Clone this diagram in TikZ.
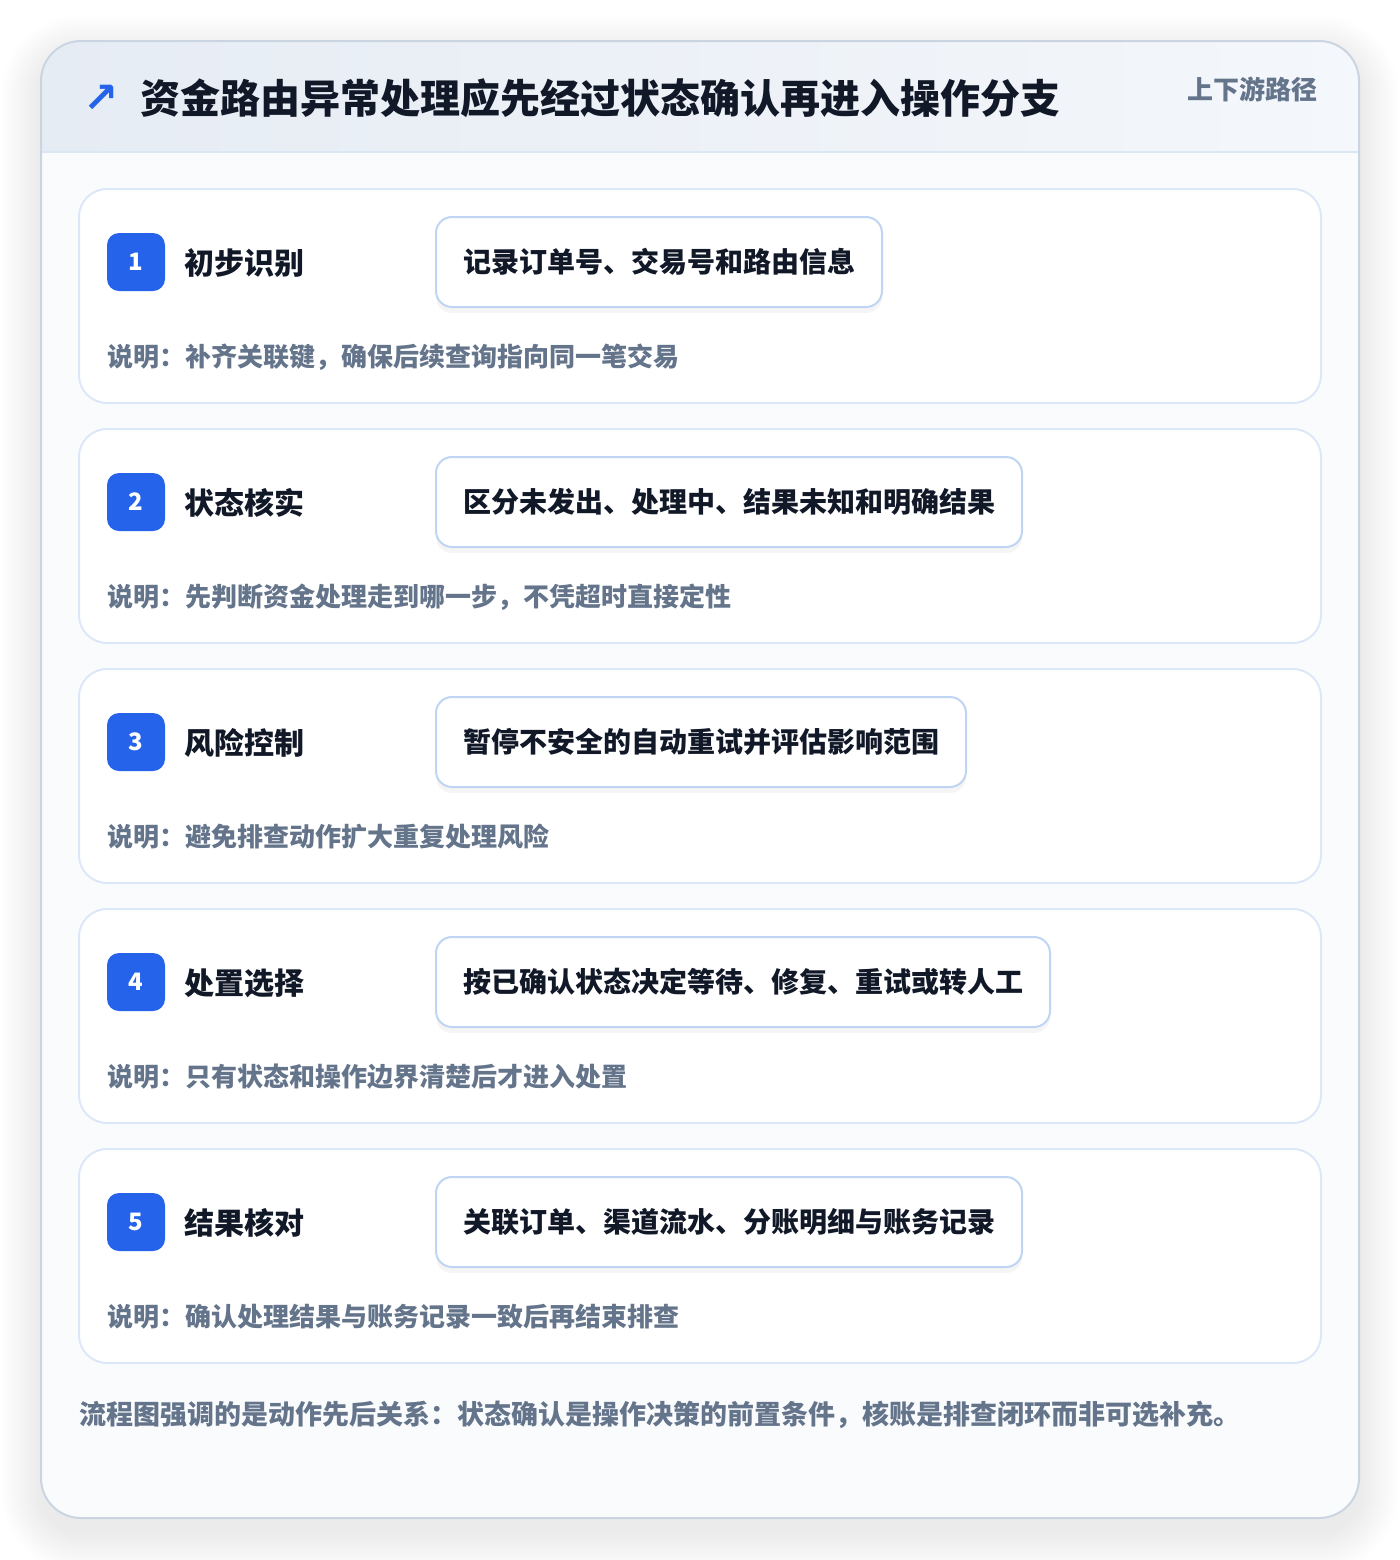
\documentclass[tikz,border=0pt]{standalone}
\usepackage{fontspec}
\setmainfont{Noto Sans CJK SC}
\newfontfamily\symfont{DejaVu Sans}
\usetikzlibrary{positioning,shadows}

\definecolor{cardline}{HTML}{CBD5E1}
\definecolor{headL}{HTML}{E6ECF4}
\definecolor{headR}{HTML}{F4F7FB}
\definecolor{headline}{HTML}{DCE7F6}
\definecolor{bodyfill}{HTML}{FAFBFD}
\definecolor{panelline}{HTML}{DCE8F8}
\definecolor{boxline}{HTML}{BFD5F3}
\definecolor{stepblue}{HTML}{2563EB}
\definecolor{ink}{HTML}{111827}
\definecolor{muted}{HTML}{64748B}

\tikzset{
  panel/.style={draw=panelline, line width=1pt, fill=white, rounded corners=14pt,
    minimum width=621pt, minimum height=107pt, inner sep=0pt},
  badge/.style={fill=stepblue, rounded corners=6pt, minimum size=29pt, inner sep=0pt,
    text=white, font=\bfseries\fontsize{12}{12}\selectfont},
  stepname/.style={anchor=west, inner sep=0pt, text=ink, font=\bfseries\fontsize{15}{18}\selectfont},
  action/.style={anchor=west, draw=boxline, line width=1pt, fill=white, rounded corners=8pt,
    minimum height=45pt, inner xsep=13.5pt, text=ink, font=\bfseries\fontsize{14}{17}\selectfont,
    drop shadow={shadow xshift=0pt, shadow yshift=-3pt, opacity=0.04, fill=black}},
  note/.style={anchor=west, inner sep=0pt, text=muted, font=\bfseries\fontsize{13}{16}\selectfont},
}

\begin{document}
\begin{tikzpicture}[x=0.5pt,y=-0.5pt]
    \useasboundingbox (0,0) rectangle (1400,1560);
    \fill[white] (0,0) rectangle (1400,1560);
    % soft shadow of the card
    \foreach \s in {2,4,...,40}
      \fill[black, opacity=0.0035, rounded corners=20pt+0.5*\s pt]
        (41-\s,41-\s+14) rectangle (1359+\s,1518+\s+14);
    % card and header
    \fill[bodyfill, rounded corners=20pt] (41,41) rectangle (1359,1518);
    \begin{scope}
      \clip[rounded corners=20pt] (41,41) rectangle (1359,1518);
      \shade[left color=headL, right color=headR] (41,41) rectangle (1359,152);
    \end{scope}
    \draw[headline, line width=1pt] (41,152) -- (1359,152);
    \draw[cardline, line width=1pt, rounded corners=20pt] (41,41) rectangle (1359,1518);

    \node[text=stepblue, font=\symfont\bfseries\fontsize{21}{21}\selectfont] (icon) at (101,99) {↗};
    \node[anchor=west, inner sep=0pt, text=ink, font=\bfseries\fontsize{20}{24}\selectfont]
      (title) at (140,98) {资金路由异常处理应先经过状态确认再进入操作分支};
    \node[anchor=east, inner sep=0pt, text=muted, font=\bfseries\fontsize{13}{16}\selectfont]
      (tag) at (1318,89) {上下游路径};

    % step 1
    \node[panel] (p1) at (700,296) {};
    \node[badge] (b1) at (136,262) {1};
    \node[stepname] (n1) at (184,263) {初步识别};
    \node[action] (a1) at (435,262) {记录订单号、交易号和路由信息};
    \node[note] (c1) at (107,357) {说明：补齐关联键，确保后续查询指向同一笔交易};

    % step 2
    \node[panel] (p2) at (700,536) {};
    \node[badge] (b2) at (136,502) {2};
    \node[stepname] (n2) at (184,503) {状态核实};
    \node[action] (a2) at (435,502) {区分未发出、处理中、结果未知和明确结果};
    \node[note] (c2) at (107,597) {说明：先判断资金处理走到哪一步，不凭超时直接定性};

    % step 3
    \node[panel] (p3) at (700,776) {};
    \node[badge] (b3) at (136,742) {3};
    \node[stepname] (n3) at (184,743) {风险控制};
    \node[action] (a3) at (435,742) {暂停不安全的自动重试并评估影响范围};
    \node[note] (c3) at (107,837) {说明：避免排查动作扩大重复处理风险};

    % step 4
    \node[panel] (p4) at (700,1016) {};
    \node[badge] (b4) at (136,982) {4};
    \node[stepname] (n4) at (184,983) {处置选择};
    \node[action] (a4) at (435,982) {按已确认状态决定等待、修复、重试或转人工};
    \node[note] (c4) at (107,1077) {说明：只有状态和操作边界清楚后才进入处置};

    % step 5
    \node[panel] (p5) at (700,1256) {};
    \node[badge] (b5) at (136,1222) {5};
    \node[stepname] (n5) at (184,1223) {结果核对};
    \node[action] (a5) at (435,1222) {关联订单、渠道流水、分账明细与账务记录};
    \node[note] (c5) at (107,1317) {说明：确认处理结果与账务记录一致后再结束排查};

    \node[anchor=west, inner sep=0pt, text=muted, font=\bfseries\fontsize{13.5}{16}\selectfont]
      (foot) at (79,1415) {流程图强调的是动作先后关系：状态确认是操作决策的前置条件，核账是排查闭环而非可选补充。};
\end{tikzpicture}
\end{document}
